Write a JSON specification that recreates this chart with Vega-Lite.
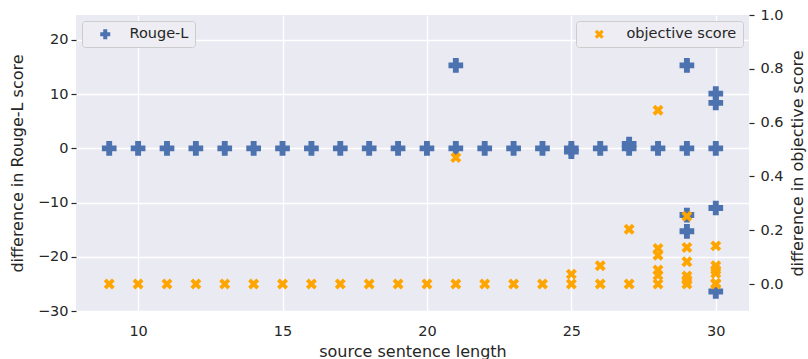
{
  "$schema": "https://vega.github.io/schema/vega-lite/v6.json",
  "width": 673,
  "height": 296,
  "autosize": {"type": "none"},
  "padding": {"left": 76, "top": 15, "right": 59, "bottom": 48},
  "background": "white",
  "config": {
    "view": {"fill": "#eaeaf2", "stroke": null},
    "font": "DejaVu Sans",
    "axis": {
      "labelFont": "DejaVu Sans",
      "titleFont": "DejaVu Sans",
      "labelColor": "#262626",
      "titleColor": "#262626",
      "titleFontWeight": "normal",
      "labelFontSize": 14.5,
      "titleFontSize": 16,
      "domain": false,
      "gridColor": "white",
      "gridWidth": 1.3,
      "tickColor": "#262626",
      "tickWidth": 1.2
    },
    "legend": {
      "labelFont": "DejaVu Sans",
      "labelFontSize": 14.5,
      "labelColor": "#262626",
      "padding": 6,
      "symbolOffset": 10,
      "offset": 6,
      "fillColor": "#ededf3",
      "strokeColor": "#cccccc",
      "cornerRadius": 3,
      "symbolStrokeWidth": 0
    }
  },
  "datasets": {
    "rouge": [
      {"len": 9, "diff": 0, "series": "Rouge-L"},
      {"len": 10, "diff": 0, "series": "Rouge-L"},
      {"len": 11, "diff": 0, "series": "Rouge-L"},
      {"len": 12, "diff": 0, "series": "Rouge-L"},
      {"len": 13, "diff": 0, "series": "Rouge-L"},
      {"len": 14, "diff": 0, "series": "Rouge-L"},
      {"len": 15, "diff": 0, "series": "Rouge-L"},
      {"len": 16, "diff": 0, "series": "Rouge-L"},
      {"len": 17, "diff": 0, "series": "Rouge-L"},
      {"len": 18, "diff": 0, "series": "Rouge-L"},
      {"len": 19, "diff": 0, "series": "Rouge-L"},
      {"len": 20, "diff": 0, "series": "Rouge-L"},
      {"len": 21, "diff": 0, "series": "Rouge-L"},
      {"len": 21, "diff": 15.3, "series": "Rouge-L"},
      {"len": 22, "diff": 0, "series": "Rouge-L"},
      {"len": 23, "diff": 0, "series": "Rouge-L"},
      {"len": 24, "diff": 0, "series": "Rouge-L"},
      {"len": 25, "diff": 0, "series": "Rouge-L"},
      {"len": 25, "diff": -0.6, "series": "Rouge-L"},
      {"len": 26, "diff": 0, "series": "Rouge-L"},
      {"len": 27, "diff": 0, "series": "Rouge-L"},
      {"len": 27, "diff": 0.8, "series": "Rouge-L"},
      {"len": 28, "diff": 0, "series": "Rouge-L"},
      {"len": 29, "diff": 0, "series": "Rouge-L"},
      {"len": 29, "diff": 15.3, "series": "Rouge-L"},
      {"len": 29, "diff": -12.3, "series": "Rouge-L"},
      {"len": 29, "diff": -15.3, "series": "Rouge-L"},
      {"len": 30, "diff": 0, "series": "Rouge-L"},
      {"len": 30, "diff": 10.1, "series": "Rouge-L"},
      {"len": 30, "diff": 8.4, "series": "Rouge-L"},
      {"len": 30, "diff": -11.0, "series": "Rouge-L"},
      {"len": 30, "diff": -26.4, "series": "Rouge-L"}
    ],
    "obj": [
      {"len": 9, "diff": 0, "series": "objective score"},
      {"len": 10, "diff": 0, "series": "objective score"},
      {"len": 11, "diff": 0, "series": "objective score"},
      {"len": 12, "diff": 0, "series": "objective score"},
      {"len": 13, "diff": 0, "series": "objective score"},
      {"len": 14, "diff": 0, "series": "objective score"},
      {"len": 15, "diff": 0, "series": "objective score"},
      {"len": 16, "diff": 0, "series": "objective score"},
      {"len": 17, "diff": 0, "series": "objective score"},
      {"len": 18, "diff": 0, "series": "objective score"},
      {"len": 19, "diff": 0, "series": "objective score"},
      {"len": 20, "diff": 0, "series": "objective score"},
      {"len": 21, "diff": 0, "series": "objective score"},
      {"len": 21, "diff": 0.47, "series": "objective score"},
      {"len": 22, "diff": 0, "series": "objective score"},
      {"len": 23, "diff": 0, "series": "objective score"},
      {"len": 24, "diff": 0, "series": "objective score"},
      {"len": 25, "diff": 0, "series": "objective score"},
      {"len": 25, "diff": 0.037, "series": "objective score"},
      {"len": 26, "diff": 0, "series": "objective score"},
      {"len": 26, "diff": 0.068, "series": "objective score"},
      {"len": 27, "diff": 0, "series": "objective score"},
      {"len": 27, "diff": 0.204, "series": "objective score"},
      {"len": 28, "diff": 0, "series": "objective score"},
      {"len": 28, "diff": 0.646, "series": "objective score"},
      {"len": 28, "diff": 0.132, "series": "objective score"},
      {"len": 28, "diff": 0.107, "series": "objective score"},
      {"len": 28, "diff": 0.052, "series": "objective score"},
      {"len": 28, "diff": 0.033, "series": "objective score"},
      {"len": 29, "diff": 0, "series": "objective score"},
      {"len": 29, "diff": 0.252, "series": "objective score"},
      {"len": 29, "diff": 0.136, "series": "objective score"},
      {"len": 29, "diff": 0.083, "series": "objective score"},
      {"len": 29, "diff": 0.03, "series": "objective score"},
      {"len": 29, "diff": 0.015, "series": "objective score"},
      {"len": 30, "diff": 0, "series": "objective score"},
      {"len": 30, "diff": 0.142, "series": "objective score"},
      {"len": 30, "diff": 0.068, "series": "objective score"},
      {"len": 30, "diff": 0.052, "series": "objective score"},
      {"len": 30, "diff": 0.04, "series": "objective score"},
      {"len": 30, "diff": 0.003, "series": "objective score"}
    ]
  },
  "layer": [
    {
      "data": {"name": "rouge"},
      "mark": {"type": "point", "filled": true, "opacity": 1, "size": 216, "strokeWidth": 0},
      "encoding": {
        "x": {
          "field": "len", "type": "quantitative",
          "scale": {"domain": [7.85, 31.15], "nice": false, "zero": false},
          "axis": {"values": [10, 15, 20, 25, 30], "title": "source sentence length", "ticks": false, "tickSize": 0, "labelPadding": 13, "titlePadding": 6, "grid": true}
        },
        "y": {
          "field": "diff", "type": "quantitative",
          "scale": {"domain": [-30, 24.6], "nice": false, "zero": false},
          "axis": {"orient": "left", "values": [-30, -20, -10, 0, 10, 20], "title": "difference in Rouge-L score", "tickSize": 5, "labelPadding": 3, "titlePadding": 12, "grid": true}
        },
        "color": {
          "field": "series", "type": "nominal",
          "scale": {"domain": ["Rouge-L"], "range": ["#4c72b0"]},
          "legend": {"orient": "top-left", "title": null, "symbolSize": 100, "labelOffset": 17}
        },
        "shape": {
          "field": "series", "type": "nominal",
          "scale": {"domain": ["Rouge-L"], "range": ["cross"]},
          "legend": {"orient": "top-left", "title": null, "symbolSize": 100, "labelOffset": 17}
        }
      }
    },
    {
      "data": {"name": "obj"},
      "mark": {"type": "point", "filled": true, "opacity": 1, "size": 120, "strokeWidth": 0},
      "encoding": {
        "x": {"field": "len", "type": "quantitative"},
        "y": {
          "field": "diff", "type": "quantitative",
          "scale": {"domain": [-0.1, 1.0], "nice": false, "zero": false},
          "axis": {"orient": "right", "values": [0, 0.2, 0.4, 0.6, 0.8, 1.0], "format": ".1f", "title": "difference in objective score", "tickSize": 5, "labelPadding": 6, "titlePadding": 6, "titleAngle": 270, "titleBaseline": "top", "grid": false}
        },
        "color": {
          "field": "series", "type": "nominal",
          "scale": {"domain": ["objective score"], "range": ["#ffa500"]},
          "legend": {"orient": "top-right", "title": null, "symbolSize": 81, "labelOffset": 20}
        },
        "shape": {
          "field": "series", "type": "nominal",
          "scale": {"domain": ["objective score"], "range": ["M-1,-0.5L-0.5,-1L0,-0.5L0.5,-1L1,-0.5L0.5,0L1,0.5L0.5,1L0,0.5L-0.5,1L-1,0.5L-0.5,0Z"]},
          "legend": {"orient": "top-right", "title": null, "symbolSize": 81, "labelOffset": 20}
        }
      }
    }
  ],
  "resolve": {
    "scale": {"y": "independent", "color": "independent", "shape": "independent"},
    "legend": {"color": "independent", "shape": "independent"}
  }
}
